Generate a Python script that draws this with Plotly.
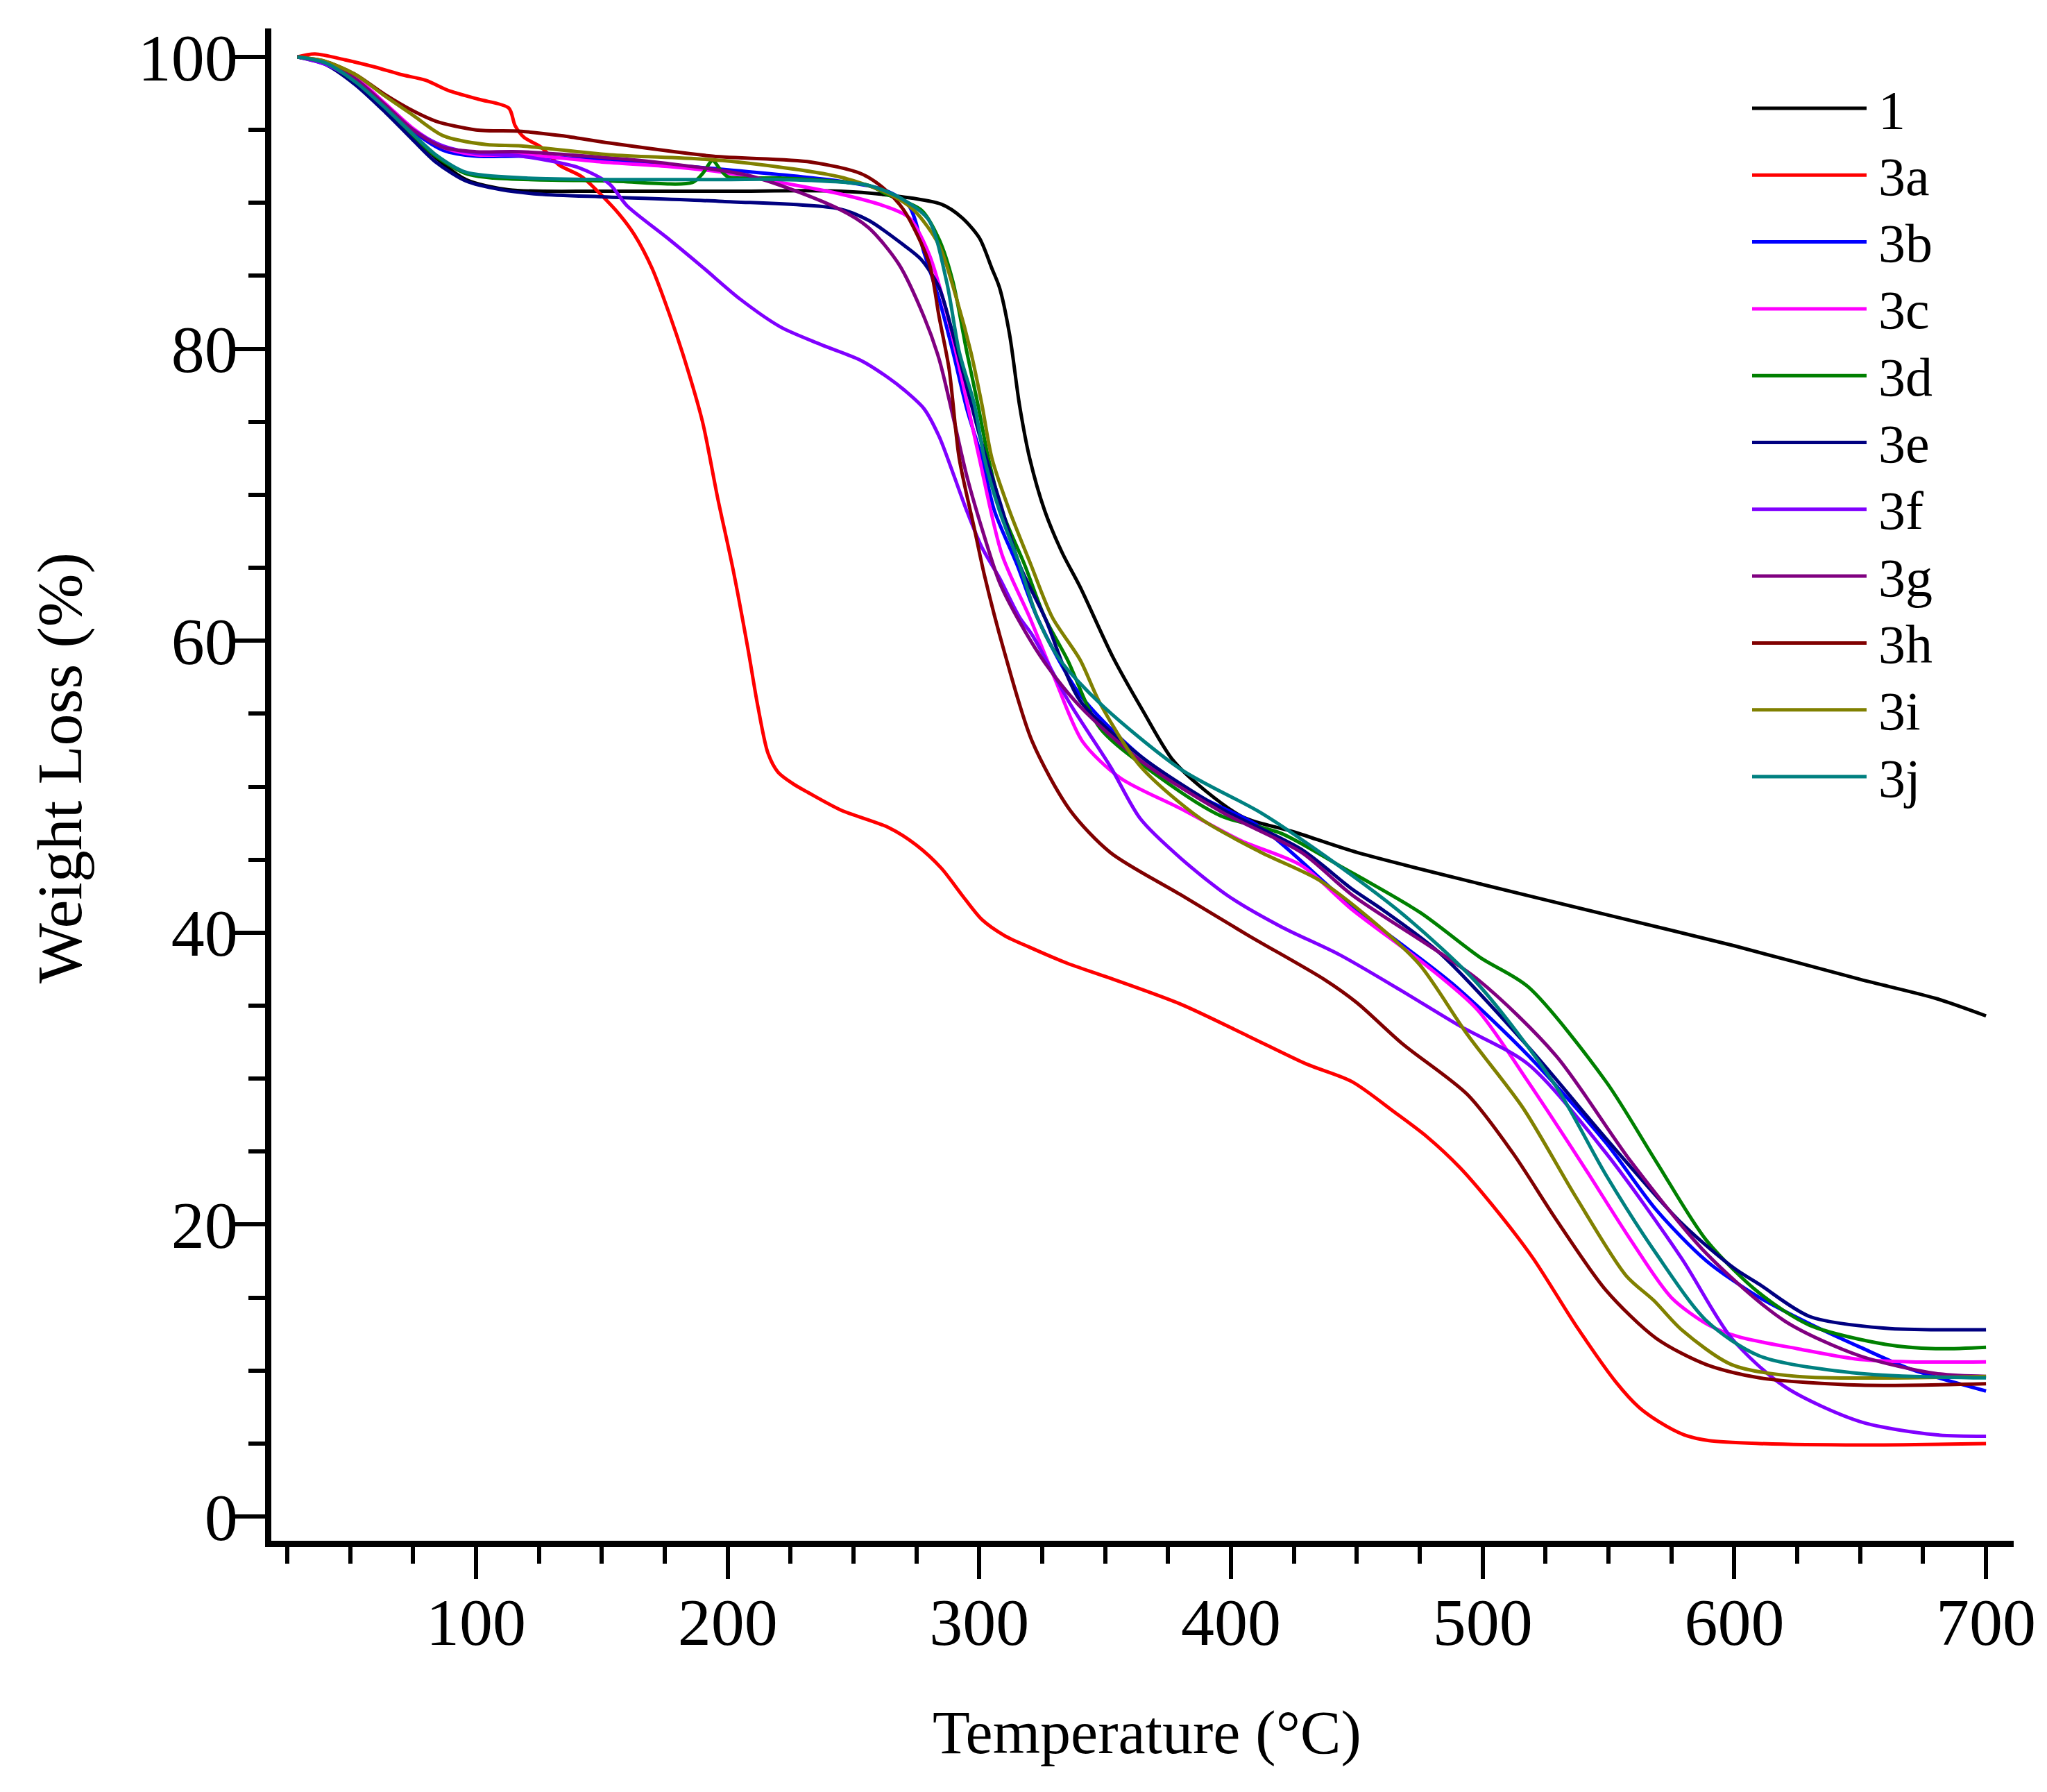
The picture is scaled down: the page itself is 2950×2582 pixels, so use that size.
import plotly.graph_objects as go

# ---------------- data ----------------
series_names = ["1", "3a", "3b", "3c", "3d", "3e", "3f", "3g", "3h", "3i", "3j"]
series_colors = ["#000000", "#FF0000", "#0000FF", "#FF00FF", "#008000", "#000080",
                 "#8000FF", "#800080", "#800000", "#808000", "#008080"]

T_1 = [29, 40, 52, 64, 75, 84, 96, 113, 150, 200, 245, 270, 285, 293, 300, 305, 308, 312, 316,
       320, 326, 333, 340, 353, 365, 377, 390, 405, 425, 450, 500, 550, 600, 650, 680, 700]
W_1 = [100, 99.6, 98.2, 96.5, 94.6, 93.1, 91.6, 90.9, 90.8, 90.8, 90.8, 90.4, 89.9, 89.0, 87.6,
       85.5, 84.2, 81.0, 76.1, 72.5, 68.9, 66.0, 63.7, 58.9, 55.2, 51.8, 49.7, 47.9, 46.9, 45.5,
       43.3, 41.2, 39.1, 36.8, 35.5, 34.3]

T_3a = [29, 36, 48, 60, 70, 80, 89, 101, 113, 115.5, 119, 126, 133, 142, 150, 157, 163, 170, 177,
        183, 190, 196, 202, 208, 212, 216, 220, 226, 232, 245, 264, 275, 285, 293, 301, 310, 320,
        335, 350, 380, 407, 430, 448, 465, 478, 491, 504, 520, 537, 553, 562, 570, 580, 590, 610,
        650, 700]
W_3a = [100, 100.2, 99.8, 99.3, 98.8, 98.4, 97.7, 97.1, 96.5, 95.3, 94.5, 93.8, 92.6, 91.8, 90.5,
        89.2, 87.8, 85.5, 82.3, 79.2, 75.0, 69.8, 65.0, 59.5, 55.5, 52.3, 51.0, 50.2, 49.6, 48.4,
        47.2, 46.0, 44.4, 42.6, 40.9, 39.8, 39.0, 37.9, 37.0, 35.1, 32.9, 31.0, 29.8, 27.7, 26.0,
        23.9, 21.3, 17.7, 13.1, 9.2, 7.5, 6.5, 5.6, 5.2, 5.0, 4.9, 5.0]

T_3b = [29, 40, 52, 64, 75, 87, 100, 118, 153, 198, 244, 262, 272, 278, 284, 289.5, 295, 301,
        306, 315, 323, 340, 364, 388, 412, 448, 488, 518, 549, 569, 589, 610, 630, 650, 670, 700]
W_3b = [100, 99.6, 98.5, 96.6, 94.9, 93.6, 93.2, 93.2, 92.9, 92.3, 91.5, 90.9, 89.8, 86.6, 83.4,
        79.8, 75.9, 72.5, 68.9, 65.2, 61.6, 56.3, 52.1, 49.3, 47.2, 41.8, 36.5, 31.6, 25.6, 21.0,
        17.5, 15.0, 13.2, 11.6, 10.1, 8.6]

T_3c = [29, 40, 52, 64, 75, 87, 100, 118, 150, 176, 198, 221, 245, 262, 272, 280, 287, 293, 300,
        309, 320, 330, 341, 356, 380, 404, 428, 448, 478, 498, 518, 539, 559, 575, 590, 602, 625,
        648, 670, 700]
W_3c = [100, 99.6, 98.6, 96.8, 95.1, 93.8, 93.3, 93.3, 92.8, 92.5, 92.1, 91.4, 90.6, 89.8, 89.0,
        86.5, 82.5, 78.0, 72.5, 65.9, 61.6, 57.4, 53.1, 50.6, 48.5, 46.3, 44.6, 41.6, 37.7, 34.7,
        29.8, 24.3, 18.9, 15.0, 13.1, 12.3, 11.5, 10.8, 10.6, 10.6]

T_3d = [29, 40, 52, 64, 75, 84, 96, 107, 153, 186, 190, 194, 197, 200, 221, 256, 263, 277, 284,
        289.5, 295, 299.4, 303.6, 309, 318, 326, 335, 348, 372, 396, 420, 443, 475, 499, 518, 549,
        569, 589, 610, 630, 660, 680, 700]
W_3d = [100, 99.6, 98.3, 96.4, 94.6, 93.2, 92.0, 91.7, 91.5, 91.4, 92.0, 92.9, 92.3, 91.8, 91.7,
        91.2, 90.6, 89.5, 87.5, 84.6, 79.8, 76.2, 72.5, 68.9, 65.2, 61.6, 58.7, 54.0, 50.6, 48.0,
        46.8, 44.6, 41.4, 38.3, 36.3, 29.8, 24.3, 18.9, 15.3, 13.1, 11.8, 11.5, 11.6]

T_3e = [29, 40, 52, 64, 75, 84, 96, 110, 125, 153, 198, 244, 256, 270, 277, 284, 289.5, 295, 301,
        308, 316, 326, 340, 364, 396, 428, 448, 460, 483, 518, 549, 579, 600, 610, 630, 660, 700]
W_3e = [100, 99.5, 98.1, 96.2, 94.3, 92.8, 91.5, 90.9, 90.6, 90.4, 90.1, 89.6, 88.8, 87.1, 86.1,
        84.2, 81.0, 77.4, 73.5, 69.6, 65.2, 61.6, 55.9, 52.1, 48.5, 45.7, 43.0, 41.6, 38.6, 32.2,
        25.9, 20.1, 17.0, 15.9, 13.7, 12.9, 12.8]

T_3f = [29, 40, 52, 64, 75, 87, 100, 118, 141, 153, 160, 176, 190, 205, 221, 237, 253, 264, 270,
        278, 284, 289.5, 295, 301, 308, 316, 321, 336, 352, 364, 380, 399, 420, 443, 467, 491, 518,
        549, 579, 599, 620, 650, 680, 700]
W_3f = [100, 99.5, 98.4, 96.6, 95.0, 93.9, 93.4, 93.2, 92.4, 91.3, 89.8, 87.6, 85.6, 83.4, 81.5,
        80.3, 79.2, 78.0, 77.2, 75.9, 74.0, 71.5, 68.9, 66.4, 64.3, 61.6, 60.4, 55.7, 51.4, 47.8,
        45.1, 42.5, 40.4, 38.5, 36.1, 33.6, 31.0, 24.9, 17.7, 12.2, 8.9, 6.5, 5.6, 5.5]

T_3g = [29, 40, 52, 64, 75, 87, 100, 118, 176, 210, 244, 256, 268, 278, 284, 289.5, 295, 301,
        308, 315, 326, 340, 364, 396, 428, 448, 498, 529, 559, 589, 620, 650, 680, 700]
W_3g = [100, 99.6, 98.5, 96.7, 95.0, 93.8, 93.5, 93.5, 92.7, 91.8, 89.6, 88.3, 85.8, 82.2, 79.3,
        75.4, 71.3, 67.7, 64.0, 61.6, 58.5, 55.5, 51.8, 48.3, 45.5, 42.6, 36.8, 31.6, 24.3, 18.0,
        13.4, 11.0, 9.8, 9.6]

T_3h = [29, 40, 52, 64, 75, 84, 100, 118, 134, 153, 194, 233, 253, 262, 270, 280, 284, 288, 292,
        298, 302, 310, 321, 336, 352, 380, 407, 437, 450, 468, 494, 512, 529, 549, 569, 589, 610,
        650, 700]
W_3h = [100, 99.7, 98.8, 97.4, 96.3, 95.6, 95.0, 94.9, 94.6, 94.1, 93.2, 92.8, 92.0, 91.0, 89.5,
        85.9, 82.2, 78.6, 72.5, 67.7, 64.5, 59.2, 53.1, 48.4, 45.5, 42.6, 39.8, 36.8, 35.2, 32.4,
        28.9, 24.9, 20.4, 15.5, 12.2, 10.4, 9.5, 9.0, 9.1]

T_3i = [29, 40, 52, 64, 75, 87, 104, 118, 153, 198, 244, 263, 274, 284, 291, 296.6, 301, 305, 312,
        320.5, 329, 340, 348, 364, 388, 412, 435, 459, 475, 494, 516, 537, 557, 568, 579, 599, 625,
        700]
W_3i = [100, 99.7, 98.8, 97.3, 96.0, 94.6, 94.0, 93.9, 93.3, 92.9, 91.8, 90.7, 89.5, 87.1, 83.4,
        79.8, 76.2, 72.5, 68.9, 65.2, 61.6, 58.7, 55.7, 51.4, 47.8, 45.5, 43.6, 40.4, 37.8, 33.0,
        28.0, 21.9, 16.5, 14.8, 12.8, 10.4, 9.6, 9.6]

T_3j = [29, 40, 52, 64, 75, 84, 96, 120, 153, 200, 221, 256, 270, 280, 287, 292, 298, 302, 308,
        316, 323, 332, 348, 380, 412, 437, 468, 498, 529, 549, 569, 589, 610, 650, 700]
W_3j = [100, 99.6, 98.3, 96.5, 94.7, 93.3, 92.1, 91.7, 91.6, 91.6, 91.6, 91.2, 90.2, 88.8, 84.6,
        79.8, 76.2, 72.5, 68.9, 65.2, 61.6, 58.7, 55.7, 51.2, 48.2, 45.3, 41.3, 36.5, 29.5, 23.4,
        18.0, 13.4, 11.0, 9.8, 9.5]

temps = [T_1, T_3a, T_3b, T_3c, T_3d, T_3e, T_3f, T_3g, T_3h, T_3i, T_3j]
weights = [W_1, W_3a, W_3b, W_3c, W_3d, W_3e, W_3f, W_3g, W_3h, W_3i, W_3j]

x_tick_vals = [100, 200, 300, 400, 500, 600, 700]
y_tick_vals = [0, 20, 40, 60, 80, 100]

# ---------------- layout geometry (pixels) ----------------
W, H = 2950, 2582
L, R, T, B = 391, 2902, 41, 2220
FONT = "Liberation Serif, Times New Roman, serif"

fig = go.Figure()
for name, color, xs, ys in zip(series_names, series_colors, temps, weights):
    fig.add_trace(go.Scatter(x=xs, y=ys, mode="lines", name=name, showlegend=False,
                             line=dict(color=color, width=5, shape="spline", smoothing=0.8)))

def px_x(X):
    return (X - L) / (R - L)

def px_y(Y):
    return (B - Y) / (B - T)

shapes = []
annotations = []
for i, (name, color) in enumerate(zip(series_names, series_colors)):
    Y = 156 + 96.3 * i
    shapes.append(dict(type="line", xref="paper", yref="paper",
                       x0=px_x(2525), x1=px_x(2690), y0=px_y(Y), y1=px_y(Y),
                       line=dict(color=color, width=5)))
    annotations.append(dict(xref="paper", yref="paper", x=px_x(2705), y=px_y(Y + 2),
                            xanchor="left", yanchor="middle", showarrow=False, text=name,
                            font=dict(family=FONT, size=78, color="black")))

annotations.append(dict(xref="paper", yref="paper", x=px_x(1653), y=px_y(2496),
                        xanchor="center", yanchor="middle", showarrow=False,
                        text="Temperature (°C)", font=dict(family=FONT, size=88, color="black")))
annotations.append(dict(xref="paper", yref="paper", x=px_x(86), y=px_y(1107),
                        xanchor="center", yanchor="middle", showarrow=False, textangle=-90,
                        text="Weight Loss (%)", font=dict(family=FONT, size=92, color="black")))

axis_common = dict(showline=True, linewidth=9, linecolor="black", ticks="outside",
                   ticklen=46, tickwidth=6, tickcolor="black", showgrid=False, zeroline=False,
                   tickfont=dict(family=FONT, size=96, color="black"), mirror=False)

fig.update_layout(
    width=W, height=H,
    margin=dict(l=L, r=W - R, t=T, b=H - B, pad=0),
    paper_bgcolor="white", plot_bgcolor="white",
    showlegend=False,
    shapes=shapes, annotations=annotations,
    xaxis=dict(range=[18.66, 711.0], tickmode="array", tickvals=x_tick_vals,
               ticktext=[str(v) for v in x_tick_vals], ticklabelstandoff=-20,
               minor=dict(ticks="outside", ticklen=24, tickwidth=6, tickcolor="black",
                          tick0=0, dtick=25, showgrid=False),
               **axis_common),
    yaxis=dict(range=[-1.66, 101.95], tickmode="array", tickvals=y_tick_vals,
               ticktext=[str(v) for v in y_tick_vals], ticklabelstandoff=-26,
               minor=dict(ticks="outside", ticklen=24, tickwidth=6, tickcolor="black",
                          tick0=0, dtick=5, showgrid=False),
               **axis_common),
)

fig.write_html("out.html")
